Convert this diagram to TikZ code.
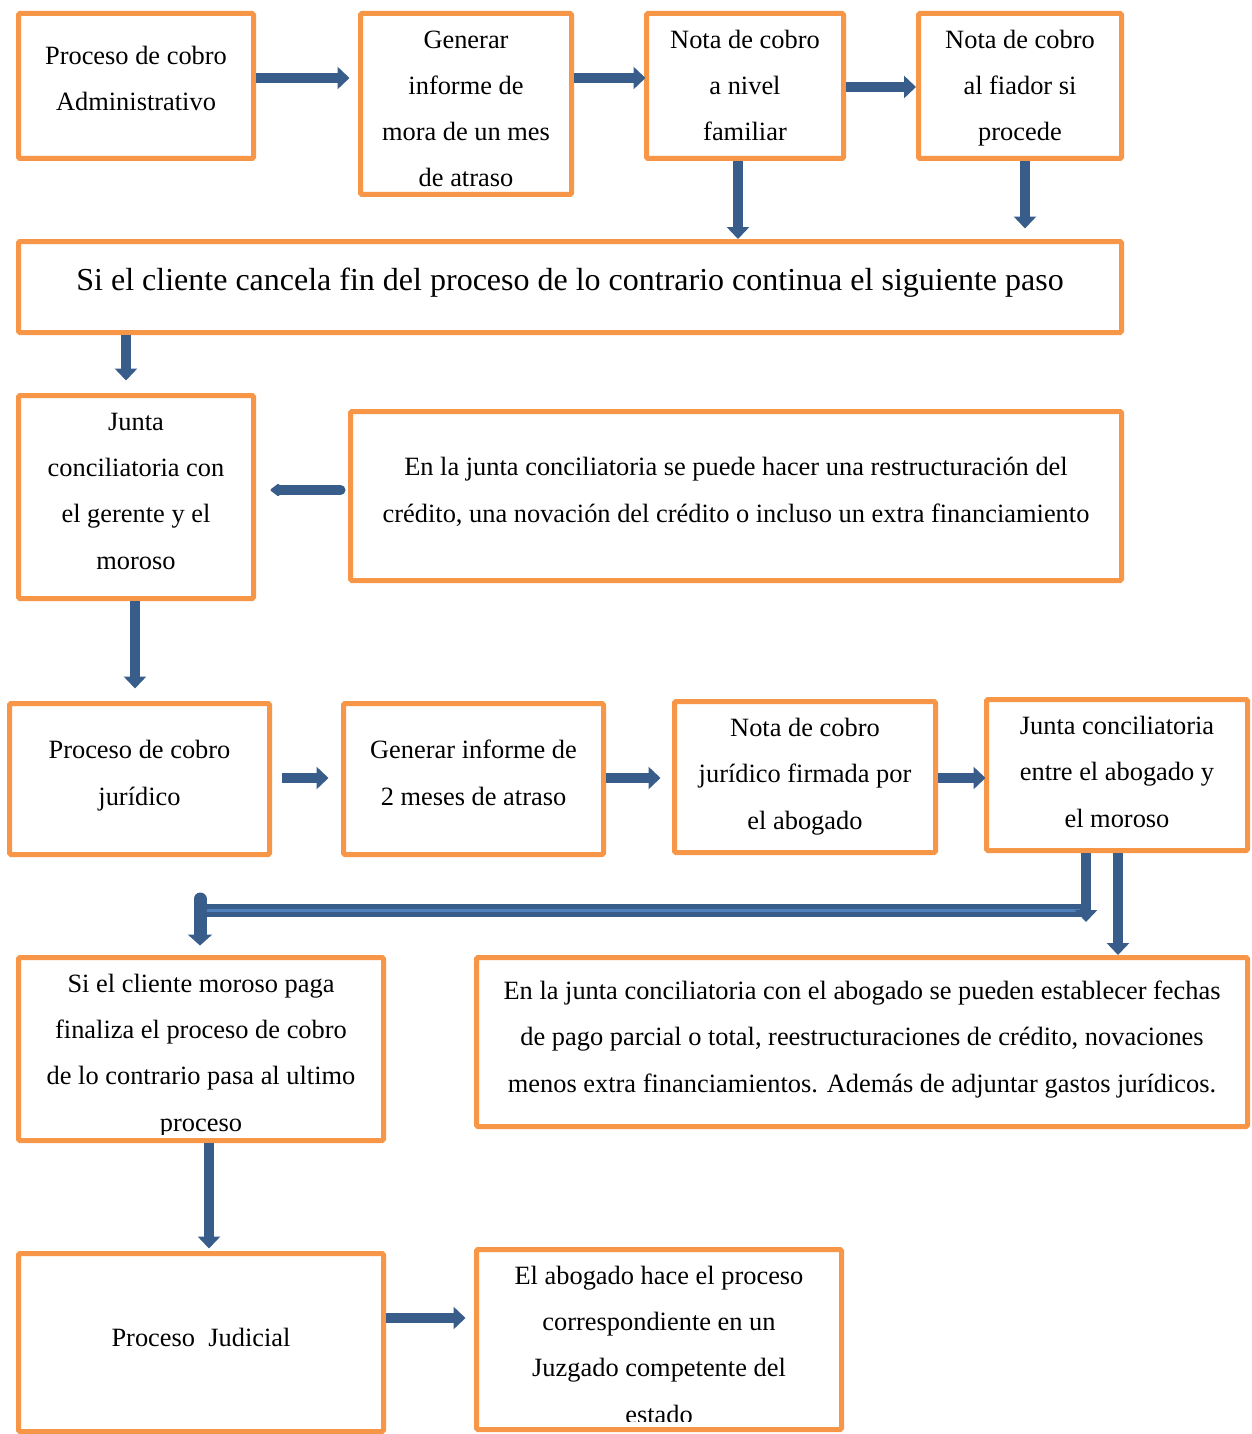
\documentclass[tikz,border=0pt]{standalone}
\usepackage{fontspec}
\setmainfont{Liberation Serif}
\usetikzlibrary{arrows.meta}
\definecolor{boxor}{RGB}{247,150,70}
\definecolor{arrbl}{RGB}{56,93,138}
\definecolor{arrlt}{RGB}{79,129,189}
\begin{document}
\begin{tikzpicture}[x=1pt,y=-1pt,
 box/.style={draw=boxor, line width=5pt, rounded corners=1.5pt, inner sep=0pt, fill=white},
 txt/.style={align=center, inner sep=0pt, font=\fontsize{26.4pt}{46.3pt}\selectfont, anchor=base},
 bigtxt/.style={align=center, inner sep=0pt, font=\fontsize{32pt}{40pt}\selectfont, anchor=base},
 blk/.style={draw=arrbl, line width=10pt, -{Triangle[width=22pt,length=12pt]}},
 thinblk/.style={draw=arrbl, line width=10pt, line cap=round, -{Triangle[width=14pt,length=10pt,round]}},
]
\useasboundingbox (0,0) rectangle (1252,1434);
% boxes
\node[box, minimum width=235pt, minimum height=145pt] (b1) at (136,86) {};
\node[box, minimum width=211pt, minimum height=181pt] (b2) at (466,104) {};
\node[box, minimum width=197pt, minimum height=145pt] (b3) at (745,86) {};
\node[box, minimum width=203pt, minimum height=145pt] (b4) at (1020,86) {};
\node[box, minimum width=1103pt, minimum height=91pt] (b5) at (570,287) {};
\node[box, minimum width=235pt, minimum height=203pt] (b6) at (136,497) {};
\node[box, minimum width=771pt, minimum height=169pt] (b7) at (736,496) {};
\node[box, minimum width=260pt, minimum height=151pt] (b8) at (139.5,779) {};
\node[box, minimum width=260pt, minimum height=151pt] (b9) at (473.5,779) {};
\node[box, minimum width=261pt, minimum height=151pt] (b10) at (805,777) {};
\node[box, minimum width=261pt, minimum height=151pt] (b11) at (1117,775) {};
\node[box, minimum width=365pt, minimum height=183pt] (b12) at (201,1049) {};
\node[box, minimum width=771pt, minimum height=169pt] (b13) at (862,1042) {};
\node[box, minimum width=365pt, minimum height=178pt] (b14) at (201,1342.5) {};
\node[box, minimum width=365pt, minimum height=180pt] (b15) at (659,1339.5) {};
% texts (anchor base = baseline of last line)
\node[txt] (t1) at (136,111) {Proceso de cobro\\Administrativo};
\node[txt] (t2) at (466,187) {Generar\\informe de\\mora de un mes\\de atraso};
\node[txt] (t3) at (745,141) {Nota de cobro\\a nivel\\familiar};
\node[txt] (t4) at (1020,141) {Nota de cobro\\al fiador si\\procede};
\node[bigtxt] (t5) at (570,290) {Si el cliente cancela fin del proceso de lo contrario continua el siguiente paso};
\node[txt] (t6) at (136,569) {Junta\\conciliatoria con\\el gerente y el\\moroso};
\node[txt] (t7) at (736,522) {En la junta conciliatoria se puede hacer una restructuración del\\crédito, una novación del crédito o incluso un extra financiamiento};
\node[txt] (t8) at (139.5,805) {Proceso de cobro\\jurídico};
\node[txt] (t9) at (473.5,805) {Generar informe de\\2 meses de atraso};
\node[txt] (t10) at (805,829) {Nota de cobro\\jurídico firmada por\\el abogado};
\node[txt] (t11) at (1117,827) {Junta conciliatoria\\entre el abogado y\\el moroso};
\begin{scope}
\clip (16,955) rectangle (386,1134);
\node[txt] (t12) at (201,1131) {Si el cliente moroso paga\\finaliza el proceso de cobro\\de lo contrario pasa al ultimo\\proceso};
\end{scope}
\node[txt] (t13) at (862,1092) {En la junta conciliatoria con el abogado se pueden establecer fechas\\de pago parcial o total, reestructuraciones de crédito, novaciones\\menos extra financiamientos. Además de adjuntar gastos jurídicos.};
\node[txt] (t14) at (201,1346) {Proceso\ \ Judicial};
\begin{scope}
\clip (474,1247) rectangle (844,1421);
\node[txt] (t15) at (659,1423) {El abogado hace el proceso\\correspondiente en un\\Juzgado competente del\\estado};
\end{scope}
% arrows
\draw[blk] ([yshift=8pt]b1.east) -- ([xshift=-8.5pt,yshift=26pt]b2.west);
\draw[blk] ([yshift=26pt]b2.east) -- ([xshift=1.5pt,yshift=8pt]b3.west);
\draw[blk] ([yshift=-1pt]b3.east) -- ([yshift=-1pt]b4.west);
\draw[blk] ([xshift=-7pt]b3.south) -- ([xshift=168pt]b5.north);
\draw[blk] ([xshift=5pt]b4.south) -- ([xshift=455pt,yshift=10.5pt]b5.north);
\draw[blk] ([xshift=-444pt]b5.south) -- ([xshift=-10pt,yshift=12.5pt]b6.north);
\draw[thinblk] ([xshift=-7.5pt,yshift=6pt]b7.west) -- ([xshift=14.5pt,yshift=7pt]b6.east);
\draw[blk] ([xshift=-1pt]b6.south) -- ([xshift=-4.5pt,yshift=12.5pt]b8.north);
\draw[blk] ([xshift=9.5pt,yshift=1pt]b8.east) -- ([xshift=-12.5pt,yshift=1pt]b9.west);
\draw[blk] ([yshift=1pt]b9.east) -- ([xshift=-11.5pt,yshift=-1pt]b10.west);
\draw[blk] ([yshift=-1pt]b10.east) -- ([xshift=1.5pt,yshift=-3pt]b11.west);
\draw[blk] ([xshift=1pt]b11.south) -- ([xshift=256pt]b13.north);
% elbow connector from b11 to b12
\coordinate (eL) at (200,910.5);
\coordinate (eR) at (1086,910.5);
\coordinate (eLs) at (206,910.5);
\coordinate (eRs) at (1080,910.5);
\coordinate (eTop) at (200,899);
\coordinate (eTip) at (1086,922);
\draw[draw=arrbl, line width=13pt] (eL) -- (eR);
\draw[draw=arrlt, line width=3.5pt] (eLs) -- (eRs);
\draw[blk] ([xshift=-31pt]b11.south) -- (eTip);
\draw[draw=arrbl, line width=13pt, line cap=round, -{Triangle[width=24pt,length=11pt]}] (eTop) -- ([xshift=-1pt,yshift=9.5pt]b12.north);
\draw[blk] ([xshift=8pt]b12.south) -- ([xshift=8pt,yshift=2.5pt]b14.north);
\draw[blk] ([yshift=24.5pt]b14.east) -- ([xshift=-8.5pt,yshift=21.5pt]b15.west);
\end{tikzpicture}
\end{document}
